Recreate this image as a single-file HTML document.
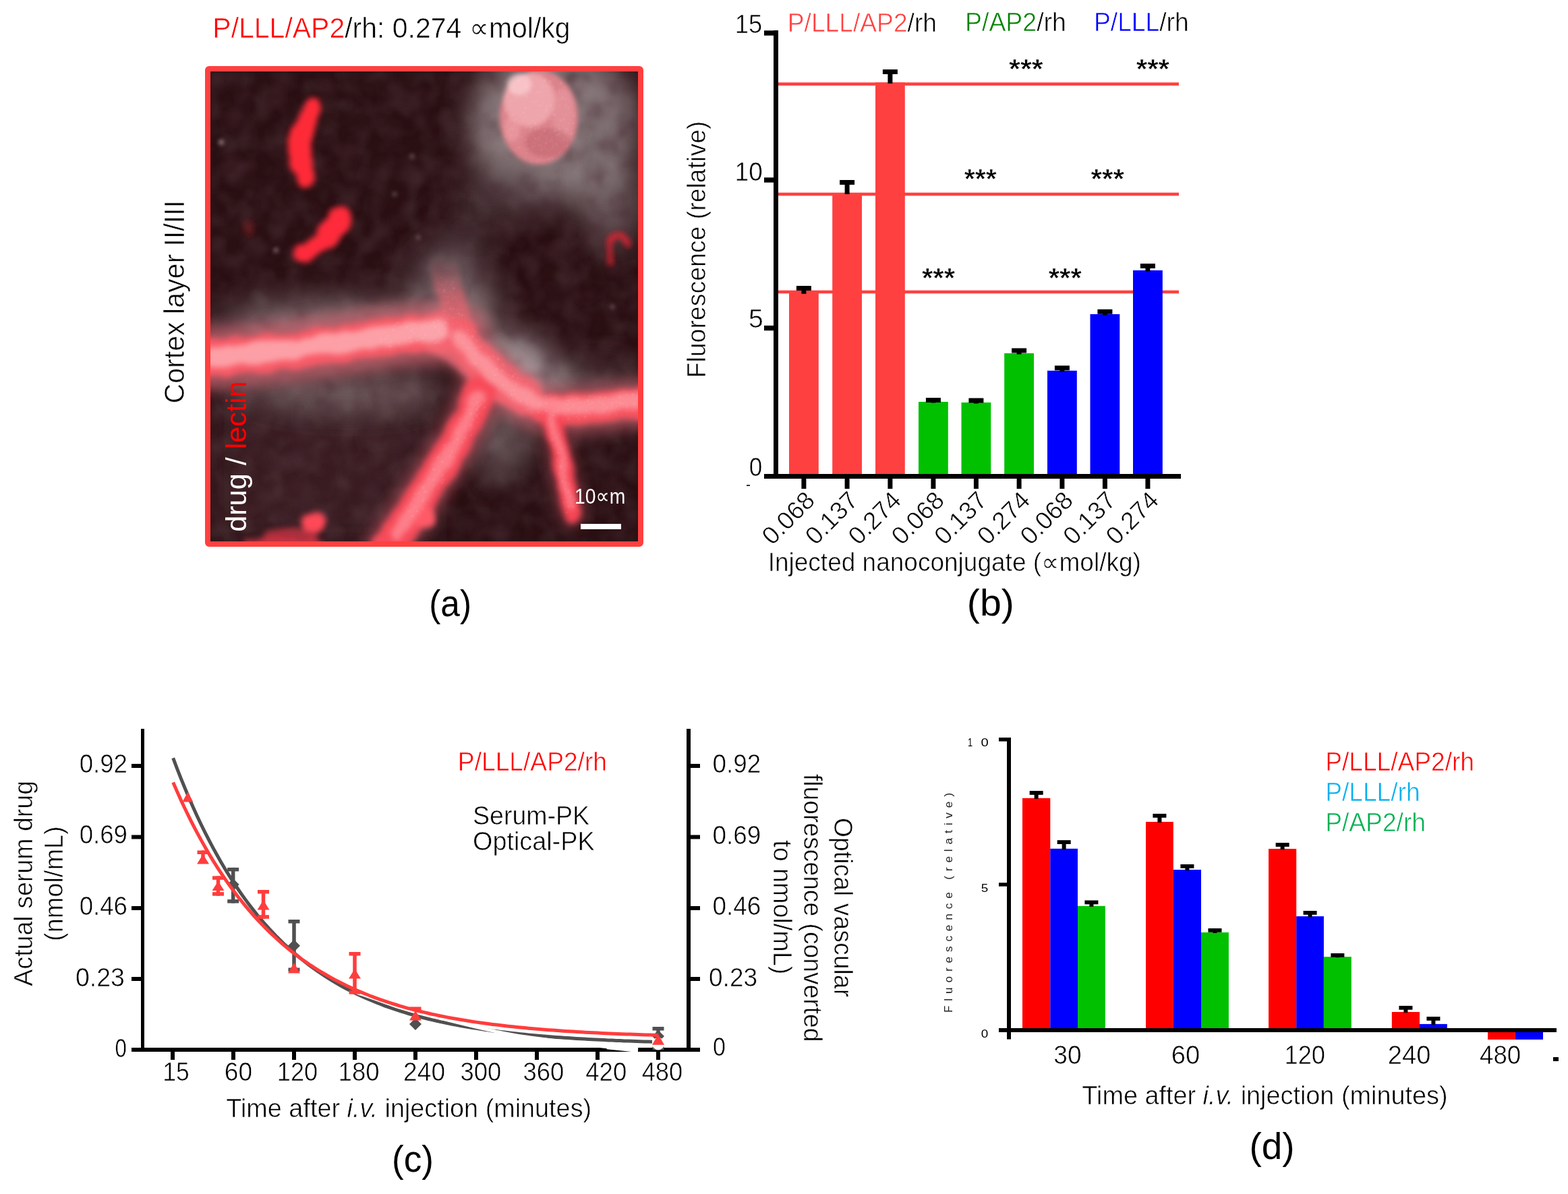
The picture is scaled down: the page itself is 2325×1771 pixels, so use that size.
<!DOCTYPE html>
<html><head><meta charset="utf-8"><style>
html,body{margin:0;padding:0;background:#fff;overflow:hidden;}
svg{display:block;}
text{font-family:"Liberation Sans","DejaVu Sans",sans-serif;}
</style></head><body>
<svg width="2325" height="1771" viewBox="0 0 2325 1771">
<rect width="2325" height="1771" fill="#fff"/>
<text x="315.37" y="56.20" font-size="42" font-weight="normal" font-style="normal" fill="#000" stroke="#fff" stroke-width="0.6" textLength="530.22" lengthAdjust="spacingAndGlyphs"><tspan fill="#FF0000">P/LLL/AP2</tspan>/rh: 0.274 <tspan font-family="DejaVu Sans, sans-serif">&#x221D;</tspan>mol/kg</text>
<defs>
<clipPath id="imgclip"><rect x="312" y="106" width="634" height="697"/></clipPath>
<filter id="fh" x="-60%" y="-60%" width="220%" height="220%"><feGaussianBlur stdDeviation="22"/></filter>
<filter id="fm" x="-50%" y="-50%" width="200%" height="200%"><feGaussianBlur stdDeviation="10"/></filter>
<filter id="fv" x="-50%" y="-50%" width="200%" height="200%">
  <feTurbulence type="fractalNoise" baseFrequency="0.035" numOctaves="2" seed="4" result="t"/>
  <feDisplacementMap in="SourceGraphic" in2="t" scale="12" xChannelSelector="R" yChannelSelector="G" result="d"/>
  <feGaussianBlur in="d" stdDeviation="4.5"/>
</filter>
<linearGradient id="upg" x1="0" y1="1" x2="0" y2="0"><stop offset="0" stop-color="#f06a74" stop-opacity="1"/><stop offset="0.55" stop-color="#d0646e" stop-opacity="0.75"/><stop offset="1" stop-color="#b06068" stop-opacity="0"/></linearGradient>
<filter id="fs" x="-50%" y="-50%" width="200%" height="200%"><feGaussianBlur stdDeviation="3"/></filter>
<filter id="speck" x="0" y="0" width="100%" height="100%">
  <feTurbulence type="fractalNoise" baseFrequency="0.45" numOctaves="1" seed="3" result="n"/>
  <feColorMatrix in="n" type="matrix" values="0 0 0 0 1  0 0 0 0 1  0 0 0 0 1  9 0 0 0 -6.0" result="d"/>
  <feGaussianBlur in="d" stdDeviation="1.0" result="db"/>
  <feComposite in="db" in2="SourceAlpha" operator="in"/>
</filter>
<filter id="mottle" x="0" y="0" width="100%" height="100%">
  <feTurbulence type="fractalNoise" baseFrequency="0.03" numOctaves="3" seed="5"/>
  <feColorMatrix type="matrix" values="0 0 0 0 0.06  0 0 0 0 0.02  0 0 0 0 0.03  0 0 0 -2.2 1.25"/>
  <feGaussianBlur stdDeviation="3"/>
</filter>
<filter id="mottle2" x="0" y="0" width="100%" height="100%">
  <feTurbulence type="fractalNoise" baseFrequency="0.04" numOctaves="2" seed="9"/>
  <feColorMatrix type="matrix" values="0 0 0 0 0.75  0 0 0 0 0.68  0 0 0 0 0.7  0 0 0 1.4 -0.6"/>
  <feGaussianBlur stdDeviation="4"/>
</filter>
</defs>
<g clip-path="url(#imgclip)">
<rect x="312" y="106" width="634" height="697" fill="#2a1013"/>
<!-- broad tonal haze -->
<g filter="url(#fh)">
  <rect x="312" y="560" width="330" height="250" fill="#3a1c21" opacity="0.9"/>
  <ellipse cx="820" cy="185" rx="125" ry="115" fill="#8e8082" opacity="0.95"/>
  <ellipse cx="890" cy="220" rx="50" ry="90" fill="#7a6c6e" opacity="0.8"/>
  <ellipse cx="760" cy="280" rx="70" ry="40" fill="#5a4a4c" opacity="0.6"/>
  <ellipse cx="665" cy="430" rx="55" ry="70" fill="#76666a" opacity="0.8"/>
  <ellipse cx="480" cy="488" rx="175" ry="24" fill="#84727a" opacity="0.8"/>
  <ellipse cx="500" cy="572" rx="165" ry="26" fill="#7a6468" opacity="0.75"/>
  <ellipse cx="772" cy="545" rx="66" ry="44" fill="#978a8c" opacity="0.85" transform="rotate(30 772 545)"/>
  <ellipse cx="750" cy="650" rx="45" ry="55" fill="#5e4c50" opacity="0.8"/>
  <ellipse cx="885" cy="568" rx="65" ry="26" fill="#6e5c60" opacity="0.6"/>
  <ellipse cx="700" cy="330" rx="40" ry="50" fill="#4a3a3c" opacity="0.5"/>
  <ellipse cx="520" cy="468" rx="180" ry="26" fill="#9a8a8c" opacity="0.6"/>
  <ellipse cx="782" cy="552" rx="72" ry="38" fill="#b0a4a6" opacity="0.8" transform="rotate(30 782 552)"/>
  <ellipse cx="700" cy="470" rx="45" ry="55" fill="#8a7c7e" opacity="0.7"/>
  <ellipse cx="735" cy="655" rx="38" ry="58" fill="#6e5e60" opacity="0.7"/>
  <ellipse cx="905" cy="300" rx="45" ry="70" fill="#7a6c6e" opacity="0.7"/>
  <ellipse cx="520" cy="590" rx="120" ry="22" fill="#7a686a" opacity="0.5"/>
</g>
<rect x="312" y="106" width="634" height="697" filter="url(#mottle2)" opacity="0.18"/>
<rect x="312" y="106" width="634" height="697" filter="url(#mottle)" opacity="0.6"/>
<g filter="url(#fs)" fill="#d8c8c8">
  <circle cx="328" cy="211" r="3"/><circle cx="409" cy="371" r="2.5"/><circle cx="611" cy="232" r="2"/>
  <circle cx="585" cy="288" r="2"/><circle cx="908" cy="455" r="2"/><circle cx="620" cy="352" r="2"/>
</g>
<!-- vessel glow -->
<g filter="url(#fm)" stroke-linecap="round" fill="none" opacity="0.75">
  <path d="M300,532 C380,528 450,518 520,508 C580,500 640,490 680,496" stroke="#c8646e" stroke-width="92"/>
  <path d="M675,495 C700,525 730,565 790,600 C830,618 890,602 960,598" stroke="#b85c66" stroke-width="72"/>
  <path d="M712,580 C700,615 680,650 661,680 C640,712 610,760 575,812" stroke="#a84c56" stroke-width="66"/>
  <path d="M815,605 C828,650 838,710 848,762" stroke="#98404a" stroke-width="38"/>
</g>
<!-- vessels -->
<g filter="url(#fv)" stroke-linecap="round" fill="none">
  <path d="M300,532 C380,528 450,518 520,508 C580,500 640,490 680,496" stroke="#f85c68" stroke-width="54"/>
  <path d="M682,500 C672,460 665,430 656,380" stroke="url(#upg)" stroke-width="40" stroke-linecap="butt"/>
  <path d="M675,495 C700,525 730,565 790,600 C830,618 890,602 960,598" stroke="#f8525f" stroke-width="44"/>
  <path d="M650,492 C690,515 722,555 780,590" stroke="#f46a76" stroke-width="58" opacity="0.75"/>
  <path d="M815,605 C828,650 838,710 848,762" stroke="#f84454" stroke-width="26"/>
  <path d="M712,580 C700,615 680,650 661,680 C640,712 610,760 575,812" stroke="#f84c5a" stroke-width="46"/>
  <path d="M462,160 C459,172 452,192 444,209 C439,222 441,238 451,252 C455,258 455,263 453,266" stroke="#ff2a38" stroke-width="27"/>
  <path d="M447,200 C442,215 443,232 450,245" stroke="#ff2a38" stroke-width="34"/>
  <path d="M505,323 C496,338 482,355 465,368 C458,373 450,376 447,376" stroke="#ff2c3a" stroke-width="26"/>
  <path d="M505,324 C500,334 494,342 486,350" stroke="#ff2c3a" stroke-width="36"/>
  <path d="M905,388 C900,365 905,350 918,348 C926,348 930,356 930,362" stroke="#e02030" stroke-width="8"/>
  <circle cx="466" cy="775" r="17" fill="#ff4a58" stroke="none"/>
  <ellipse cx="430" cy="795" rx="40" ry="12" fill="#d83848" stroke="none" opacity="0.7"/>
  <circle cx="628" cy="766" r="16" fill="#ff5a68" stroke="none"/>
  <ellipse cx="420" cy="806" rx="60" ry="9" fill="#c83040" stroke="none"/>
  <circle cx="368" cy="340" r="10" fill="#802028" stroke="none" opacity="0.6"/>
</g>
<!-- vessel cores -->
<g filter="url(#fv)" stroke-linecap="round" fill="none" opacity="0.65">
  <path d="M312,530 C380,526 450,516 520,506 C580,498 620,492 650,490" stroke="#ffc4c8" stroke-width="30"/>
  <path d="M680,500 C705,530 735,566 790,596 C830,612 880,600 950,594" stroke="#ffaab0" stroke-width="22"/>
  <path d="M708,588 C697,620 678,652 660,682 C642,712 615,752 590,790" stroke="#ff9aa2" stroke-width="20"/>
  <path d="M816,612 C828,650 836,700 845,750" stroke="#ff9aa2" stroke-width="10"/>
</g>
<!-- cell body -->
<g filter="url(#fs)">
  <ellipse cx="799" cy="174" rx="58" ry="70" fill="#dc828a"/>
  <ellipse cx="785" cy="148" rx="38" ry="40" fill="#f4b0b6" opacity="0.75"/>
  <ellipse cx="770" cy="125" rx="18" ry="16" fill="#ffd6da" opacity="0.6"/>
  <ellipse cx="835" cy="170" rx="16" ry="40" fill="#e89aa2" opacity="0.6"/>
  <ellipse cx="812" cy="212" rx="34" ry="22" fill="#c0646e" opacity="0.55"/>
  <ellipse cx="760" cy="190" rx="12" ry="20" fill="#f0a0a8" opacity="0.6"/>
</g>
<!-- speckles -->
<g filter="url(#speck)" opacity="0.5">
  <ellipse cx="799" cy="174" rx="56" ry="68" fill="#fff"/>
  <path d="M560,500 C620,490 650,488 690,500 C720,540 760,580 800,600 C850,612 900,600 946,596" stroke="#fff" stroke-width="36" fill="none"/>
  <path d="M712,585 C700,618 680,652 661,682 C645,708 625,740 605,770" stroke="#fff" stroke-width="30" fill="none"/>
  <path d="M815,610 C828,650 838,710 848,760" stroke="#fff" stroke-width="20" fill="none"/>
  <path d="M680,490 C672,460 665,440 660,410" stroke="#fff" stroke-width="30" fill="none"/>
</g>
</g>

<rect x="308" y="102" width="642" height="705" fill="none" stroke="#FF4040" stroke-width="8" rx="2"/>
<rect x="861.00" y="777.00" width="60.00" height="8.00" fill="#FFFFFF"/>
<text x="851.93" y="747.00" font-size="32" font-weight="normal" font-style="normal" fill="#FFFFFF" textLength="75.34" lengthAdjust="spacingAndGlyphs">10<tspan font-family="DejaVu Sans, sans-serif">&#x221D;</tspan>m</text>
<text transform="translate(272.50,596.50) rotate(-90)" x="-1.96" y="0" font-size="42" font-weight="normal" font-style="normal" fill="#000" stroke="#fff" stroke-width="0.6" textLength="301.46" lengthAdjust="spacingAndGlyphs">Cortex layer II/III</text>
<text transform="translate(364.70,786.80) rotate(-90)" x="-2.06" y="0" font-size="42" font-weight="normal" font-style="normal" fill="#000" textLength="223.49" lengthAdjust="spacingAndGlyphs"><tspan fill="#FFFFFF">drug / </tspan><tspan fill="#FF0000">lectin</tspan></text>
<text x="636.20" y="913.70" font-size="55" font-weight="normal" font-style="normal" fill="#000" textLength="62.83" lengthAdjust="spacingAndGlyphs">(a)</text>
<rect x="1154.00" y="122.30" width="594.00" height="4.60" fill="#FF4040"/>
<rect x="1154.00" y="285.70" width="594.00" height="4.60" fill="#FF4040"/>
<rect x="1154.00" y="430.70" width="594.00" height="4.60" fill="#FF4040"/>
<rect x="1170.00" y="434.30" width="43.80" height="269.20" fill="#FF4040"/>
<rect x="1180.90" y="424.00" width="22.00" height="7.00" fill="#000"/>
<rect x="1188.40" y="430.00" width="7.00" height="5.80" fill="#000"/>
<rect x="1188.40" y="709.00" width="7.00" height="16.00" fill="#000"/>
<rect x="1234.20" y="286.50" width="43.80" height="417.00" fill="#FF4040"/>
<rect x="1245.10" y="267.00" width="22.00" height="7.00" fill="#000"/>
<rect x="1252.60" y="273.00" width="7.00" height="15.00" fill="#000"/>
<rect x="1252.60" y="709.00" width="7.00" height="16.00" fill="#000"/>
<rect x="1298.00" y="122.30" width="43.80" height="581.20" fill="#FF4040"/>
<rect x="1308.90" y="103.00" width="22.00" height="7.00" fill="#000"/>
<rect x="1316.40" y="109.00" width="7.00" height="14.80" fill="#000"/>
<rect x="1316.40" y="709.00" width="7.00" height="16.00" fill="#000"/>
<rect x="1362.00" y="596.00" width="43.80" height="107.50" fill="#00C000"/>
<rect x="1372.90" y="590.00" width="22.00" height="7.00" fill="#000"/>
<rect x="1380.40" y="596.00" width="7.00" height="1.50" fill="#000"/>
<rect x="1380.40" y="709.00" width="7.00" height="16.00" fill="#000"/>
<rect x="1425.50" y="597.00" width="43.80" height="106.50" fill="#00C000"/>
<rect x="1436.40" y="590.50" width="22.00" height="7.00" fill="#000"/>
<rect x="1443.90" y="596.50" width="7.00" height="2.00" fill="#000"/>
<rect x="1443.90" y="709.00" width="7.00" height="16.00" fill="#000"/>
<rect x="1489.20" y="524.00" width="43.80" height="179.50" fill="#00C000"/>
<rect x="1500.10" y="516.50" width="22.00" height="7.00" fill="#000"/>
<rect x="1507.60" y="522.50" width="7.00" height="3.00" fill="#000"/>
<rect x="1507.60" y="709.00" width="7.00" height="16.00" fill="#000"/>
<rect x="1553.00" y="549.80" width="43.80" height="153.70" fill="#0000FF"/>
<rect x="1563.90" y="542.30" width="22.00" height="7.00" fill="#000"/>
<rect x="1571.40" y="548.30" width="7.00" height="3.00" fill="#000"/>
<rect x="1571.40" y="709.00" width="7.00" height="16.00" fill="#000"/>
<rect x="1616.50" y="466.00" width="43.80" height="237.50" fill="#0000FF"/>
<rect x="1627.40" y="458.80" width="22.00" height="7.00" fill="#000"/>
<rect x="1634.90" y="464.80" width="7.00" height="2.70" fill="#000"/>
<rect x="1634.90" y="709.00" width="7.00" height="16.00" fill="#000"/>
<rect x="1680.00" y="401.00" width="43.80" height="302.50" fill="#0000FF"/>
<rect x="1690.90" y="391.00" width="22.00" height="7.00" fill="#000"/>
<rect x="1698.40" y="397.00" width="7.00" height="5.50" fill="#000"/>
<rect x="1698.40" y="709.00" width="7.00" height="16.00" fill="#000"/>
<rect x="1147.00" y="45.00" width="7.00" height="665.00" fill="#000"/>
<rect x="1133.00" y="703.00" width="618.00" height="7.00" fill="#000"/>
<rect x="1133.00" y="45.30" width="17.00" height="7.40" fill="#000"/>
<rect x="1133.00" y="263.30" width="17.00" height="7.40" fill="#000"/>
<rect x="1133.00" y="482.90" width="17.00" height="7.40" fill="#000"/>
<rect x="1107.00" y="719.00" width="5.00" height="2.00" fill="#333"/>
<text x="1089.83" y="48.80" font-size="38" font-weight="normal" font-style="normal" fill="#000" stroke="#fff" stroke-width="0.6" textLength="40.39" lengthAdjust="spacingAndGlyphs">15</text>
<text x="1089.58" y="267.50" font-size="38" font-weight="normal" font-style="normal" fill="#000" stroke="#fff" stroke-width="0.6" textLength="41.17" lengthAdjust="spacingAndGlyphs">10</text>
<text x="1109.94" y="486.00" font-size="38" font-weight="normal" font-style="normal" fill="#000" stroke="#fff" stroke-width="0.6" textLength="21.76" lengthAdjust="spacingAndGlyphs">5</text>
<text x="1110.77" y="705.50" font-size="38" font-weight="normal" font-style="normal" fill="#000" stroke="#fff" stroke-width="0.6" textLength="19.58" lengthAdjust="spacingAndGlyphs">0</text>
<text x="1496.00" y="116.20" font-size="40" font-weight="bold" font-style="normal" fill="#000" stroke="#fff" stroke-width="0.6" textLength="50.68" lengthAdjust="spacingAndGlyphs">***</text>
<text x="1684.70" y="116.20" font-size="40" font-weight="bold" font-style="normal" fill="#000" stroke="#fff" stroke-width="0.6" textLength="49.39" lengthAdjust="spacingAndGlyphs">***</text>
<text x="1429.70" y="278.80" font-size="40" font-weight="bold" font-style="normal" fill="#000" stroke="#fff" stroke-width="0.6" textLength="47.99" lengthAdjust="spacingAndGlyphs">***</text>
<text x="1617.60" y="278.80" font-size="40" font-weight="bold" font-style="normal" fill="#000" stroke="#fff" stroke-width="0.6" textLength="49.39" lengthAdjust="spacingAndGlyphs">***</text>
<text x="1367.00" y="425.70" font-size="40" font-weight="bold" font-style="normal" fill="#000" stroke="#fff" stroke-width="0.6" textLength="48.99" lengthAdjust="spacingAndGlyphs">***</text>
<text x="1554.80" y="425.70" font-size="40" font-weight="bold" font-style="normal" fill="#000" stroke="#fff" stroke-width="0.6" textLength="48.89" lengthAdjust="spacingAndGlyphs">***</text>
<text transform="translate(1210.40,744.50) rotate(-45)" x="0" y="0" text-anchor="end" font-size="37" font-weight="normal" font-style="normal" fill="#000" stroke="#fff" stroke-width="0.6">0.068</text>
<text transform="translate(1274.60,744.50) rotate(-45)" x="0" y="0" text-anchor="end" font-size="37" font-weight="normal" font-style="normal" fill="#000" stroke="#fff" stroke-width="0.6">0.137</text>
<text transform="translate(1338.40,744.50) rotate(-45)" x="0" y="0" text-anchor="end" font-size="37" font-weight="normal" font-style="normal" fill="#000" stroke="#fff" stroke-width="0.6">0.274</text>
<text transform="translate(1402.40,744.50) rotate(-45)" x="0" y="0" text-anchor="end" font-size="37" font-weight="normal" font-style="normal" fill="#000" stroke="#fff" stroke-width="0.6">0.068</text>
<text transform="translate(1465.90,744.50) rotate(-45)" x="0" y="0" text-anchor="end" font-size="37" font-weight="normal" font-style="normal" fill="#000" stroke="#fff" stroke-width="0.6">0.137</text>
<text transform="translate(1529.60,744.50) rotate(-45)" x="0" y="0" text-anchor="end" font-size="37" font-weight="normal" font-style="normal" fill="#000" stroke="#fff" stroke-width="0.6">0.274</text>
<text transform="translate(1593.40,744.50) rotate(-45)" x="0" y="0" text-anchor="end" font-size="37" font-weight="normal" font-style="normal" fill="#000" stroke="#fff" stroke-width="0.6">0.068</text>
<text transform="translate(1656.90,744.50) rotate(-45)" x="0" y="0" text-anchor="end" font-size="37" font-weight="normal" font-style="normal" fill="#000" stroke="#fff" stroke-width="0.6">0.137</text>
<text transform="translate(1720.40,744.50) rotate(-45)" x="0" y="0" text-anchor="end" font-size="37" font-weight="normal" font-style="normal" fill="#000" stroke="#fff" stroke-width="0.6">0.274</text>
<text x="1138.68" y="846.50" font-size="38" font-weight="normal" font-style="normal" fill="#000" stroke="#fff" stroke-width="0.6" textLength="553.21" lengthAdjust="spacingAndGlyphs">Injected nanoconjugate (<tspan font-family="DejaVu Sans, sans-serif">&#x221D;</tspan>mol/kg)</text>
<text transform="translate(1046.30,557.50) rotate(-90)" x="-2.96" y="0" font-size="38" font-weight="normal" font-style="normal" fill="#000" stroke="#fff" stroke-width="0.6" textLength="380.91" lengthAdjust="spacingAndGlyphs">Fluorescence (relative)</text>
<text x="1167.76" y="46.60" font-size="38" font-weight="normal" font-style="normal" fill="#000" stroke="#fff" stroke-width="0.6" textLength="221.24" lengthAdjust="spacingAndGlyphs"><tspan fill="#FF4040">P/LLL/AP2</tspan>/rh</text>
<text x="1431.04" y="46.40" font-size="38" font-weight="normal" font-style="normal" fill="#000" stroke="#fff" stroke-width="0.6" textLength="149.82" lengthAdjust="spacingAndGlyphs"><tspan fill="#008000">P/AP2</tspan>/rh</text>
<text x="1622.07" y="46.40" font-size="38" font-weight="normal" font-style="normal" fill="#000" stroke="#fff" stroke-width="0.6" textLength="140.55" lengthAdjust="spacingAndGlyphs"><tspan fill="#0000FF">P/LLL</tspan>/rh</text>
<text x="1433.88" y="912.60" font-size="55" font-weight="normal" font-style="normal" fill="#000" textLength="69.99" lengthAdjust="spacingAndGlyphs">(b)</text>
<rect x="209.00" y="1081.00" width="5.00" height="479.00" fill="#000"/>
<rect x="1018.00" y="1081.00" width="6.00" height="479.00" fill="#000"/>
<rect x="195.00" y="1554.00" width="843.00" height="6.00" fill="#000"/>
<rect x="195.00" y="1133.00" width="14.00" height="6.00" fill="#000"/>
<rect x="1024.00" y="1133.00" width="14.00" height="6.00" fill="#000"/>
<rect x="195.00" y="1238.50" width="14.00" height="6.00" fill="#000"/>
<rect x="1024.00" y="1238.50" width="14.00" height="6.00" fill="#000"/>
<rect x="195.00" y="1344.00" width="14.00" height="6.00" fill="#000"/>
<rect x="1024.00" y="1344.00" width="14.00" height="6.00" fill="#000"/>
<rect x="195.00" y="1449.00" width="14.00" height="6.00" fill="#000"/>
<rect x="1024.00" y="1449.00" width="14.00" height="6.00" fill="#000"/>
<rect x="253.00" y="1560.00" width="6.00" height="12.00" fill="#000"/>
<rect x="343.00" y="1560.00" width="6.00" height="12.00" fill="#000"/>
<rect x="433.00" y="1560.00" width="6.00" height="12.00" fill="#000"/>
<rect x="523.00" y="1560.00" width="6.00" height="12.00" fill="#000"/>
<rect x="613.00" y="1560.00" width="6.00" height="12.00" fill="#000"/>
<rect x="703.00" y="1560.00" width="6.00" height="12.00" fill="#000"/>
<rect x="793.00" y="1560.00" width="6.00" height="12.00" fill="#000"/>
<rect x="883.00" y="1560.00" width="6.00" height="12.00" fill="#000"/>
<rect x="973.00" y="1560.00" width="6.00" height="12.00" fill="#000"/>
<rect x="337.20" y="1286.90" width="17.00" height="5.50" fill="#505050"/>
<rect x="342.95" y="1286.90" width="5.50" height="52.70" fill="#505050"/>
<rect x="337.20" y="1334.10" width="17.00" height="5.50" fill="#505050"/>
<path d="M345.7,1303 L354.7,1312 L345.7,1321 L336.7,1312 Z" fill="#505050"/>
<rect x="427.50" y="1364.00" width="17.00" height="5.50" fill="#505050"/>
<rect x="433.25" y="1364.00" width="5.50" height="77.00" fill="#505050"/>
<rect x="427.50" y="1435.50" width="17.00" height="5.50" fill="#505050"/>
<path d="M436,1393.8 L445,1402.8 L436,1411.8 L427,1402.8 Z" fill="#505050"/>
<path d="M616,1510 L625,1519 L616,1528 L607,1519 Z" fill="#505050"/>
<rect x="967.50" y="1523.00" width="17.00" height="5.50" fill="#505050"/>
<rect x="973.25" y="1523.00" width="5.50" height="34.50" fill="#505050"/>
<rect x="967.50" y="1552.00" width="17.00" height="5.50" fill="#505050"/>
<path d="M976,1528 L985,1537 L976,1546 L967,1537 Z" fill="#505050"/>
<path d="M256.7,1124.4 L262.6,1140.1 L268.5,1155.2 L274.5,1169.7 L280.4,1183.7 L286.3,1197.2 L292.2,1210.2 L298.1,1222.7 L304.1,1234.8 L310.0,1246.4 L315.9,1257.6 L321.8,1268.3 L327.7,1278.7 L333.6,1288.7 L339.6,1298.3 L345.5,1307.6 L351.4,1316.5 L357.3,1325.1 L363.2,1333.4 L369.2,1341.4 L375.1,1349.1 L381.0,1356.5 L386.9,1363.6 L392.8,1370.5 L398.8,1377.1 L404.7,1383.4 L410.6,1389.6 L416.5,1395.5 L422.4,1401.2 L428.4,1406.7 L434.3,1411.9 L440.2,1417.0 L446.1,1421.9 L452.0,1426.6 L458.0,1431.2 L463.9,1435.6 L469.8,1439.8 L475.7,1443.8 L481.6,1447.7 L487.5,1451.5 L493.5,1455.1 L499.4,1458.6 L505.3,1462.0 L511.2,1465.2 L517.1,1468.4 L523.1,1471.4 L529.0,1474.3 L534.9,1477.1 L540.8,1479.7 L546.7,1482.3 L552.7,1484.8 L558.6,1487.2 L564.5,1489.5 L570.4,1491.8 L576.3,1493.9 L582.3,1496.0 L588.2,1498.0 L594.1,1499.9 L600.0,1501.7 L605.9,1503.5 L611.8,1505.2 L617.8,1506.9 L623.7,1508.5 L629.6,1510.0 L635.5,1511.5 L641.4,1512.9 L647.4,1514.2 L653.3,1515.6 L659.2,1516.8 L665.1,1518.1 L671.0,1519.2 L677.0,1520.4 L682.9,1521.5 L688.8,1522.5 L694.7,1523.5 L700.6,1524.5 L706.6,1525.4 L712.5,1526.3 L718.4,1527.2 L724.3,1528.0 L730.2,1528.9 L736.2,1529.6 L742.1,1530.4 L748.0,1531.1 L753.9,1531.8 L759.8,1532.5 L765.7,1533.1 L771.7,1533.7 L777.6,1534.3 L783.5,1534.9 L789.4,1535.5 L795.3,1536.0 L801.3,1536.5 L807.2,1537.0 L813.1,1537.5 L819.0,1538.0 L824.9,1538.4 L830.9,1538.8 L836.8,1539.2 L842.7,1539.6 L848.6,1540.0 L854.5,1540.4 L860.5,1540.7 L866.4,1541.1 L872.3,1541.4 L878.2,1541.7 L884.1,1542.0 L890.1,1542.3 L896.0,1542.6 L901.9,1542.9 L907.8,1543.1 L913.7,1543.4 L919.6,1543.6 L925.6,1543.9 L931.5,1544.1 L937.4,1544.3 L943.3,1544.5 L949.2,1544.7 L955.2,1544.9 L961.1,1545.1 L967.0,1545.3" fill="none" stroke="#505050" stroke-width="5"/>
<path d="M525.0,1471.0 C537.5,1475.2 570.8,1487.5 600.0,1496.0 C629.2,1504.5 673.0,1515.5 700.0,1522.0 C727.0,1528.5 737.5,1530.9 762.0,1535.0 C786.5,1539.1 825.8,1543.7 847.0,1546.5 C868.2,1549.3 876.8,1550.3 889.0,1551.8 C901.2,1553.2 911.7,1554.3 920.0,1555.2 C928.3,1556.1 934.7,1556.6 939.0,1557.0 C943.3,1557.4 944.8,1557.3 946.0,1557.4" fill="none" stroke="#fff" stroke-width="4.5"/>
<path d="M900,1553 L939,1557 L946,1557.4" fill="none" stroke="#fff" stroke-width="6.6"/>
<circle cx="976" cy="1548" r="9.2" fill="#fff"/>
<path d="M256.7,1160.6 L262.7,1174.3 L268.7,1187.6 L274.7,1200.3 L280.7,1212.6 L286.7,1224.5 L292.7,1235.9 L298.7,1246.9 L304.7,1257.5 L310.6,1267.7 L316.6,1277.6 L322.6,1287.1 L328.6,1296.2 L334.6,1305.1 L340.6,1313.6 L346.6,1321.8 L352.6,1329.7 L358.6,1337.3 L364.6,1344.6 L370.6,1351.7 L376.6,1358.5 L382.6,1365.1 L388.6,1371.4 L394.6,1377.5 L400.6,1383.4 L406.6,1389.0 L412.5,1394.5 L418.5,1399.8 L424.5,1404.8 L430.5,1409.7 L436.5,1414.5 L442.5,1419.0 L448.5,1423.4 L454.5,1427.6 L460.5,1431.7 L466.5,1435.6 L472.5,1439.4 L478.5,1443.0 L484.5,1446.5 L490.5,1449.9 L496.5,1453.2 L502.5,1456.3 L508.5,1459.3 L514.4,1462.3 L520.4,1465.1 L526.4,1467.8 L532.4,1470.4 L538.4,1472.9 L544.4,1475.3 L550.4,1477.7 L556.4,1479.9 L562.4,1482.1 L568.4,1484.2 L574.4,1486.2 L580.4,1488.2 L586.4,1490.0 L592.4,1491.9 L598.4,1493.6 L604.4,1495.3 L610.4,1496.9 L616.3,1498.5 L622.3,1500.0 L628.3,1501.4 L634.3,1502.8 L640.3,1504.2 L646.3,1505.4 L652.3,1506.7 L658.3,1507.9 L664.3,1509.1 L670.3,1510.2 L676.3,1511.3 L682.3,1512.3 L688.3,1513.3 L694.3,1514.3 L700.3,1515.2 L706.3,1516.1 L712.3,1517.0 L718.3,1517.8 L724.2,1518.6 L730.2,1519.4 L736.2,1520.1 L742.2,1520.8 L748.2,1521.5 L754.2,1522.2 L760.2,1522.8 L766.2,1523.5 L772.2,1524.1 L778.2,1524.6 L784.2,1525.2 L790.2,1525.7 L796.2,1526.3 L802.2,1526.8 L808.2,1527.2 L814.2,1527.7 L820.2,1528.1 L826.1,1528.6 L832.1,1529.0 L838.1,1529.4 L844.1,1529.8 L850.1,1530.1 L856.1,1530.5 L862.1,1530.8 L868.1,1531.2 L874.1,1531.5 L880.1,1531.8 L886.1,1532.1 L892.1,1532.4 L898.1,1532.7 L904.1,1532.9 L910.1,1533.2 L916.1,1533.4 L922.1,1533.7 L928.0,1533.9 L934.0,1534.1 L940.0,1534.3 L946.0,1534.5 L952.0,1534.7 L958.0,1534.9 L964.0,1535.1 L970.0,1535.3 L976.0,1535.5" fill="none" stroke="#FF3D3D" stroke-width="5"/>
<path d="M278.4,1174.4 L286.4,1189.6 L270.4,1189.6 Z" fill="#FF3D3D"/>
<rect x="292.50" y="1261.50" width="17.00" height="5.50" fill="#FF3D3D"/>
<rect x="298.25" y="1261.50" width="5.50" height="13.50" fill="#FF3D3D"/>
<path d="M301,1267 L310.0,1281.5 L292.0,1281.5 Z" fill="#FF3D3D"/>
<rect x="315.00" y="1299.40" width="17.00" height="5.50" fill="#FF3D3D"/>
<rect x="320.75" y="1299.40" width="5.50" height="29.30" fill="#FF3D3D"/>
<rect x="315.00" y="1323.20" width="17.00" height="5.50" fill="#FF3D3D"/>
<path d="M323.5,1307 L332.5,1321 L314.5,1321 Z" fill="#FF3D3D"/>
<rect x="382.00" y="1320.00" width="17.00" height="5.50" fill="#FF3D3D"/>
<rect x="387.75" y="1320.00" width="5.50" height="42.70" fill="#FF3D3D"/>
<rect x="382.00" y="1357.20" width="17.00" height="5.50" fill="#FF3D3D"/>
<path d="M390.5,1335 L399.5,1349.4 L381.5,1349.4 Z" fill="#FF3D3D"/>
<path d="M436,1427.8 L445.0,1443.6 L427.0,1443.6 Z" fill="#FF3D3D"/>
<rect x="517.50" y="1412.00" width="17.00" height="5.50" fill="#FF3D3D"/>
<rect x="523.25" y="1412.00" width="5.50" height="62.60" fill="#FF3D3D"/>
<rect x="517.50" y="1469.10" width="17.00" height="5.50" fill="#FF3D3D"/>
<path d="M526,1437 L535.0,1451.5 L517.0,1451.5 Z" fill="#FF3D3D"/>
<rect x="607.50" y="1493.40" width="17.00" height="5.50" fill="#FF3D3D"/>
<path d="M616,1499 L625.0,1513.4 L607.0,1513.4 Z" fill="#FF3D3D"/>
<path d="M976,1534 L985.0,1549.8 L967.0,1549.8 Z" fill="#FF3D3D"/>
<text x="117.64" y="1145.70" font-size="38" font-weight="normal" font-style="normal" fill="#000" stroke="#fff" stroke-width="0.6" textLength="71.36" lengthAdjust="spacingAndGlyphs">0.92</text>
<text x="117.64" y="1251.40" font-size="38" font-weight="normal" font-style="normal" fill="#000" stroke="#fff" stroke-width="0.6" textLength="71.36" lengthAdjust="spacingAndGlyphs">0.69</text>
<text x="117.64" y="1357.00" font-size="38" font-weight="normal" font-style="normal" fill="#000" stroke="#fff" stroke-width="0.6" textLength="71.36" lengthAdjust="spacingAndGlyphs">0.46</text>
<text x="111.91" y="1462.90" font-size="38" font-weight="normal" font-style="normal" fill="#000" stroke="#fff" stroke-width="0.6" textLength="72.93" lengthAdjust="spacingAndGlyphs">0.23</text>
<text x="170.58" y="1568.00" font-size="38" font-weight="normal" font-style="normal" fill="#000" stroke="#fff" stroke-width="0.6" textLength="17.36" lengthAdjust="spacingAndGlyphs">0</text>
<text x="1056.53" y="1146.00" font-size="38" font-weight="normal" font-style="normal" fill="#000" stroke="#fff" stroke-width="0.6" textLength="71.68" lengthAdjust="spacingAndGlyphs">0.92</text>
<text x="1056.53" y="1251.50" font-size="38" font-weight="normal" font-style="normal" fill="#000" stroke="#fff" stroke-width="0.6" textLength="71.68" lengthAdjust="spacingAndGlyphs">0.69</text>
<text x="1056.53" y="1357.00" font-size="38" font-weight="normal" font-style="normal" fill="#000" stroke="#fff" stroke-width="0.6" textLength="71.68" lengthAdjust="spacingAndGlyphs">0.46</text>
<text x="1051.03" y="1462.50" font-size="38" font-weight="normal" font-style="normal" fill="#000" stroke="#fff" stroke-width="0.6" textLength="72.09" lengthAdjust="spacingAndGlyphs">0.23</text>
<text x="1057.11" y="1566.00" font-size="38" font-weight="normal" font-style="normal" fill="#000" stroke="#fff" stroke-width="0.6" textLength="18.92" lengthAdjust="spacingAndGlyphs">0</text>
<text x="241.20" y="1602.50" font-size="38" font-weight="normal" font-style="normal" fill="#000" stroke="#fff" stroke-width="0.6" textLength="39.50" lengthAdjust="spacingAndGlyphs">15</text>
<text x="332.85" y="1602.50" font-size="38" font-weight="normal" font-style="normal" fill="#000" stroke="#fff" stroke-width="0.6" textLength="41.31" lengthAdjust="spacingAndGlyphs">60</text>
<text x="410.84" y="1602.50" font-size="38" font-weight="normal" font-style="normal" fill="#000" stroke="#fff" stroke-width="0.6" textLength="60.40" lengthAdjust="spacingAndGlyphs">120</text>
<text x="501.61" y="1602.50" font-size="38" font-weight="normal" font-style="normal" fill="#000" stroke="#fff" stroke-width="0.6" textLength="61.04" lengthAdjust="spacingAndGlyphs">180</text>
<text x="598.04" y="1602.50" font-size="38" font-weight="normal" font-style="normal" fill="#000" stroke="#fff" stroke-width="0.6" textLength="62.03" lengthAdjust="spacingAndGlyphs">240</text>
<text x="682.48" y="1602.50" font-size="38" font-weight="normal" font-style="normal" fill="#000" stroke="#fff" stroke-width="0.6" textLength="60.87" lengthAdjust="spacingAndGlyphs">300</text>
<text x="775.48" y="1602.50" font-size="38" font-weight="normal" font-style="normal" fill="#000" stroke="#fff" stroke-width="0.6" textLength="60.87" lengthAdjust="spacingAndGlyphs">360</text>
<text x="868.24" y="1602.50" font-size="38" font-weight="normal" font-style="normal" fill="#000" stroke="#fff" stroke-width="0.6" textLength="61.12" lengthAdjust="spacingAndGlyphs">420</text>
<text x="951.64" y="1602.50" font-size="38" font-weight="normal" font-style="normal" fill="#000" stroke="#fff" stroke-width="0.6" textLength="60.70" lengthAdjust="spacingAndGlyphs">480</text>
<text x="678.87" y="1143.00" font-size="38" font-weight="normal" font-style="normal" fill="#FF0000" stroke="#fff" stroke-width="0.6" textLength="221.14" lengthAdjust="spacingAndGlyphs">P/LLL/AP2/rh</text>
<text x="701.02" y="1222.90" font-size="38" font-weight="normal" font-style="normal" fill="#000" stroke="#fff" stroke-width="0.6" textLength="173.15" lengthAdjust="spacingAndGlyphs">Serum-PK</text>
<text x="701.01" y="1260.50" font-size="38" font-weight="normal" font-style="normal" fill="#000" stroke="#fff" stroke-width="0.6" textLength="180.61" lengthAdjust="spacingAndGlyphs">Optical-PK</text>
<text x="335.31" y="1656.50" font-size="38" font-weight="normal" font-style="normal" fill="#000" stroke="#fff" stroke-width="0.6" textLength="541.83" lengthAdjust="spacingAndGlyphs">Time after <tspan font-style="italic">i.v.</tspan> injection (minutes)</text>
<text transform="translate(48.00,1462.70) rotate(-90)" x="0.00" y="0" font-size="38" font-weight="normal" font-style="normal" fill="#000" stroke="#fff" stroke-width="0.6" textLength="304.85" lengthAdjust="spacingAndGlyphs">Actual serum drug</text>
<text transform="translate(93.00,1393.90) rotate(-90)" x="-1.99" y="0" font-size="38" font-weight="normal" font-style="normal" fill="#000" stroke="#fff" stroke-width="0.6" textLength="170.52" lengthAdjust="spacingAndGlyphs">(nmol/mL)</text>
<text transform="translate(1236.50,1214.90) rotate(90)" x="-1.97" y="0" font-size="38" font-weight="normal" font-style="normal" fill="#000" stroke="#fff" stroke-width="0.6" textLength="266.19" lengthAdjust="spacingAndGlyphs">Optical vascular</text>
<text transform="translate(1192.40,1148.00) rotate(90)" x="0.00" y="0" font-size="38" font-weight="normal" font-style="normal" fill="#000" stroke="#fff" stroke-width="0.6" textLength="397.51" lengthAdjust="spacingAndGlyphs">fluorescence (converted</text>
<text transform="translate(1147.30,1247.20) rotate(90)" x="-0.99" y="0" font-size="38" font-weight="normal" font-style="normal" fill="#000" stroke="#fff" stroke-width="0.6" textLength="199.00" lengthAdjust="spacingAndGlyphs">to nmol/mL)</text>
<text x="581.10" y="1738.00" font-size="55" font-weight="normal" font-style="normal" fill="#000" textLength="61.93" lengthAdjust="spacingAndGlyphs">(c)</text>
<rect x="1516.00" y="1183.80" width="41.30" height="342.20" fill="#FF0000"/>
<rect x="1526.65" y="1173.10" width="20.00" height="5.80" fill="#000"/>
<rect x="1533.65" y="1178.10" width="6.00" height="6.70" fill="#000"/>
<rect x="1557.30" y="1258.80" width="40.70" height="267.20" fill="#0000FF"/>
<rect x="1567.65" y="1246.20" width="20.00" height="5.80" fill="#000"/>
<rect x="1574.65" y="1251.20" width="6.00" height="8.60" fill="#000"/>
<rect x="1598.00" y="1343.80" width="40.80" height="182.20" fill="#00C000"/>
<rect x="1608.40" y="1335.50" width="20.00" height="5.80" fill="#000"/>
<rect x="1615.40" y="1340.50" width="6.00" height="4.30" fill="#000"/>
<rect x="1699.00" y="1219.00" width="40.80" height="307.00" fill="#FF0000"/>
<rect x="1709.40" y="1207.00" width="20.00" height="5.80" fill="#000"/>
<rect x="1716.40" y="1212.00" width="6.00" height="8.00" fill="#000"/>
<rect x="1739.80" y="1290.00" width="41.20" height="236.00" fill="#0000FF"/>
<rect x="1750.40" y="1282.00" width="20.00" height="5.80" fill="#000"/>
<rect x="1757.40" y="1287.00" width="6.00" height="4.00" fill="#000"/>
<rect x="1781.00" y="1383.00" width="40.90" height="143.00" fill="#00C000"/>
<rect x="1791.45" y="1377.00" width="20.00" height="5.80" fill="#000"/>
<rect x="1798.45" y="1382.00" width="6.00" height="2.00" fill="#000"/>
<rect x="1881.00" y="1259.00" width="41.20" height="267.00" fill="#FF0000"/>
<rect x="1891.60" y="1250.10" width="20.00" height="5.80" fill="#000"/>
<rect x="1898.60" y="1255.10" width="6.00" height="4.90" fill="#000"/>
<rect x="1922.20" y="1359.10" width="40.70" height="166.90" fill="#0000FF"/>
<rect x="1932.55" y="1351.00" width="20.00" height="5.80" fill="#000"/>
<rect x="1939.55" y="1356.00" width="6.00" height="4.10" fill="#000"/>
<rect x="1962.90" y="1419.20" width="40.90" height="106.80" fill="#00C000"/>
<rect x="1973.35" y="1414.00" width="20.00" height="5.80" fill="#000"/>
<rect x="1980.35" y="1419.00" width="6.00" height="1.20" fill="#000"/>
<rect x="2063.80" y="1501.00" width="41.20" height="25.00" fill="#FF0000"/>
<rect x="2074.40" y="1491.90" width="20.00" height="5.80" fill="#000"/>
<rect x="2081.40" y="1496.90" width="6.00" height="5.10" fill="#000"/>
<rect x="2105.00" y="1518.90" width="40.80" height="7.10" fill="#0000FF"/>
<rect x="2115.40" y="1508.00" width="20.00" height="5.80" fill="#000"/>
<rect x="2122.40" y="1513.00" width="6.00" height="6.90" fill="#000"/>
<rect x="2206.00" y="1530.00" width="40.80" height="11.90" fill="#FF0000"/>
<rect x="2246.80" y="1530.00" width="41.20" height="11.90" fill="#0000FF"/>
<rect x="1493.00" y="1094.00" width="6.00" height="447.50" fill="#000"/>
<rect x="1481.00" y="1525.00" width="827.00" height="6.00" fill="#000"/>
<rect x="1481.00" y="1094.00" width="15.00" height="5.60" fill="#000"/>
<rect x="1481.00" y="1309.30" width="15.00" height="5.40" fill="#000"/>
<rect x="2303.00" y="1568.00" width="8.00" height="6.00" fill="#000"/>
<text x="1434.95" y="1107.10" font-size="17" font-weight="normal" font-style="normal" fill="#000" textLength="7.10" lengthAdjust="spacingAndGlyphs">1</text>
<text x="1454.51" y="1107.10" font-size="17" font-weight="normal" font-style="normal" fill="#000" textLength="11.24" lengthAdjust="spacingAndGlyphs">0</text>
<text x="1454.79" y="1322.90" font-size="17" font-weight="normal" font-style="normal" fill="#000" textLength="10.53" lengthAdjust="spacingAndGlyphs">5</text>
<text x="1454.79" y="1538.90" font-size="17" font-weight="normal" font-style="normal" fill="#000" textLength="10.53" lengthAdjust="spacingAndGlyphs">0</text>
<text transform="translate(1412.30,1501.00) rotate(-90)" x="-1.01" y="0" font-size="17" font-weight="normal" font-style="normal" fill="#222" letter-spacing="6.8" textLength="332.80" lengthAdjust="spacingAndGlyphs">Fluorescence (relative)</text>
<text x="1562.25" y="1577.50" font-size="38" font-weight="normal" font-style="normal" fill="#000" stroke="#fff" stroke-width="0.6" textLength="41.31" lengthAdjust="spacingAndGlyphs">30</text>
<text x="1736.79" y="1577.50" font-size="38" font-weight="normal" font-style="normal" fill="#000" stroke="#fff" stroke-width="0.6" textLength="42.39" lengthAdjust="spacingAndGlyphs">60</text>
<text x="1904.54" y="1577.50" font-size="38" font-weight="normal" font-style="normal" fill="#000" stroke="#fff" stroke-width="0.6" textLength="60.50" lengthAdjust="spacingAndGlyphs">120</text>
<text x="2057.79" y="1577.50" font-size="38" font-weight="normal" font-style="normal" fill="#000" stroke="#fff" stroke-width="0.6" textLength="63.62" lengthAdjust="spacingAndGlyphs">240</text>
<text x="2194.04" y="1577.50" font-size="38" font-weight="normal" font-style="normal" fill="#000" stroke="#fff" stroke-width="0.6" textLength="61.12" lengthAdjust="spacingAndGlyphs">480</text>
<text x="1965.17" y="1142.80" font-size="38" font-weight="normal" font-style="normal" fill="#FF0000" stroke="#fff" stroke-width="0.6" textLength="220.83" lengthAdjust="spacingAndGlyphs">P/LLL/AP2/rh</text>
<text x="1965.17" y="1187.90" font-size="38" font-weight="normal" font-style="normal" fill="#00B0F0" stroke="#fff" stroke-width="0.6" textLength="140.43" lengthAdjust="spacingAndGlyphs">P/LLL/rh</text>
<text x="1965.16" y="1232.80" font-size="38" font-weight="normal" font-style="normal" fill="#00B050" stroke="#fff" stroke-width="0.6" textLength="148.87" lengthAdjust="spacingAndGlyphs">P/AP2/rh</text>
<text x="1604.30" y="1638.00" font-size="38" font-weight="normal" font-style="normal" fill="#000" stroke="#fff" stroke-width="0.6" textLength="542.23" lengthAdjust="spacingAndGlyphs">Time after <tspan font-style="italic">i.v.</tspan> injection (minutes)</text>
<text x="1852.50" y="1719.00" font-size="55" font-weight="normal" font-style="normal" fill="#000" textLength="67.12" lengthAdjust="spacingAndGlyphs">(d)</text>
</svg></body></html>
